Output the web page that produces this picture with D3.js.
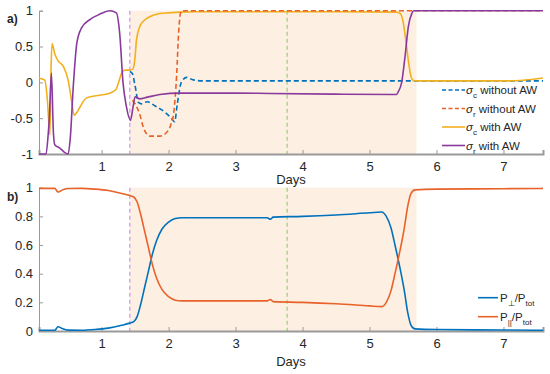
<!DOCTYPE html>
<html><head><meta charset="utf-8">
<script src="https://cdn.jsdelivr.net/npm/d3@7"></script>
<style>body{margin:0;background:#fff;} svg{display:block;font-family:"Liberation Sans",Arial,sans-serif;}</style>
</head><body><svg id="c" width="550" height="374"></svg>
<script>
// ---------- data ----------
const xTicks = [1,2,3,4,5,6,7];
const yTicksA = [-1,-0.5,0,0.5,1];
const yTicksB = [0,0.2,0.4,0.6,0.8,1];
const shadeRange = [1.42, 5.7];
const markerPink = 1.42;
const markerGreen = 3.77;

// panel a: sigma_c with AW (yellow)
const scWithX = [0.065,0.1,0.15,0.19,0.215,0.228,0.245,0.26,0.3,0.35,0.43,0.5,0.55,0.59,0.63,0.68,0.77,0.97,1.1,1.17,1.22,1.25,1.28,1.31,1.36,1.42,1.47,1.5,1.52,1.57,1.62,1.67,1.77,1.87,2.0,2.17,2.4,2.7,3.5,4.5,5.4,5.46,5.5,5.54,5.58,5.62,5.65,5.7,6.0,7.0,7.3,7.59];
const scWithY = [0.06,0.05,0.03,-0.25,-0.6,-0.73,0.2,0.54,0.4,0.3,0.22,0.03,-0.25,-0.46,-0.42,-0.34,-0.22,-0.18,-0.16,-0.13,-0.09,-0.01,0.08,0.15,0.17,0.17,0.19,0.36,0.59,0.78,0.85,0.89,0.935,0.96,0.97,0.98,0.985,0.985,0.985,0.985,0.98,0.96,0.85,0.6,0.3,0.08,0.03,0.02,0.02,0.02,0.03,0.06];
// panel a: sigma_r with AW (purple)
const srWithX = [0.065,0.15,0.17,0.2,0.22,0.25,0.28,0.3,0.38,0.45,0.5,0.53,0.58,0.63,0.7,0.83,0.97,1.12,1.22,1.27,1.32,1.37,1.43,1.47,1.5,1.57,1.67,1.87,2.17,3.0,3.5,4.5,5.4,5.43,5.48,5.53,5.58,5.63,5.66,6.0,7.0,7.59];
const srWithY = [-1,-1,-1,-0.75,-0.48,0.13,-0.7,-0.87,-0.92,-0.98,-1,-0.8,-0.01,0.55,0.76,0.88,0.95,1.0,0.97,0.68,-0.01,-0.34,-0.53,-0.34,-0.2,-0.23,-0.21,-0.17,-0.15,-0.15,-0.155,-0.165,-0.17,-0.13,0.0,0.36,0.78,0.96,1.0,1.0,1.0,1.0];
// panel a: sigma_c without AW (blue dashed)
const scWithoutX = [1.42,1.46,1.5,1.55,1.6,1.68,1.8,1.95,2.04,2.09,2.13,2.19,2.27,2.35,2.5,3.5,5.7,7.59];
const scWithoutY = [0.15,0.12,-0.05,-0.28,-0.3,-0.27,-0.33,-0.42,-0.5,-0.55,-0.3,0.0,0.07,0.04,0.02,0.02,0.02,0.02];
// panel a: sigma_r without AW (orange dashed)
const srWithoutX = [1.46,1.5,1.57,1.62,1.72,1.87,1.97,2.03,2.08,2.12,2.15,2.19,2.3,7.59];
const srWithoutY = [-0.25,-0.3,-0.45,-0.62,-0.75,-0.75,-0.7,-0.6,-0.4,0.1,0.7,1.0,1.0,1.0];

// panel b
const pX = [0.065,0.3,0.35,0.42,0.5,0.7,0.9,1.1,1.3,1.42,1.48,1.53,1.58,1.64,1.7,1.76,1.82,1.9,2.0,2.1,2.2,3.0,3.47,3.52,3.56,4.0,4.5,5.0,5.18,5.25,5.32,5.38,5.45,5.52,5.57,5.62,5.68,6.0,7.0,7.59];
const pPerp = [0.005,0.005,0.03,0.015,0.006,0.005,0.01,0.02,0.04,0.055,0.065,0.1,0.18,0.3,0.42,0.54,0.63,0.71,0.76,0.785,0.79,0.79,0.79,0.78,0.795,0.8,0.81,0.825,0.83,0.8,0.72,0.6,0.45,0.28,0.13,0.04,0.015,0.01,0.007,0.005];
const pPar = [0.995,0.995,0.97,0.985,0.994,0.995,0.99,0.98,0.96,0.945,0.935,0.9,0.82,0.7,0.58,0.46,0.37,0.29,0.24,0.215,0.21,0.21,0.21,0.22,0.205,0.2,0.19,0.175,0.17,0.2,0.28,0.4,0.55,0.72,0.87,0.96,0.985,0.99,0.993,0.995];

// ---------- drawing ----------
const svg = d3.select("#c");
const xDomain = [0.065, 7.59];
const x = d3.scaleLinear().domain(xDomain).range([39, 543]);
const yA = d3.scaleLinear().domain([-1,1]).range([154, 10.7]);
const yB = d3.scaleLinear().domain([0,1]).range([331, 187.7]);

const C = {blue:"#0072BD", orange:"#E8622A", yellow:"#F2B01E", purple:"#8A3A9C", axis:"#9a9a9a", text:"#262626"};

function panel(y, yTicks, yFmt, label, labelY, daysY){
  const g = svg.append("g");
  const [yb, yt] = y.range();
  g.append("rect").attr("x", x(shadeRange[0])).attr("y", yt)
    .attr("width", x(shadeRange[1]) - x(shadeRange[0])).attr("height", yb - yt)
    .attr("fill", "#fdefe2");
  g.append("line").attr("x1", x(markerPink)).attr("x2", x(markerPink)).attr("y1", yt).attr("y2", yb)
    .attr("stroke", "#d6a6f2").attr("stroke-width", 1.5).attr("stroke-dasharray", "4,3");
  g.append("line").attr("x1", x(markerGreen)).attr("x2", x(markerGreen)).attr("y1", yt).attr("y2", yb)
    .attr("stroke", "#9ed27a").attr("stroke-width", 1.3).attr("stroke-dasharray", "4,3");
  const xa = g.append("g").attr("transform", `translate(0,${yb})`)
    .call(d3.axisBottom(x).tickValues(xTicks).tickSize(-4).tickPadding(8).tickFormat(d3.format("d")));
  const ya = g.append("g").attr("transform", `translate(${x.range()[0]},0)`)
    .call(d3.axisLeft(y).tickValues(yTicks).tickSize(-4).tickPadding(6).tickFormat(yFmt));
  [xa, ya].forEach(a => {
    a.selectAll("path").attr("stroke", C.axis);
    a.selectAll("line").attr("stroke", C.axis);
    a.selectAll("text").attr("fill", C.text).style("font-size", "13px").style("font-family", '"Liberation Sans",Arial,sans-serif');
  });
  xa.select("path").attr("stroke-width", 2);
  g.append("text").attr("x", (x.range()[0] + x.range()[1]) / 2).attr("y", daysY)
    .attr("text-anchor", "middle").attr("fill", C.text).style("font-size", "13px").text("Days");
  g.append("text").attr("x", 7).attr("y", labelY).attr("fill", C.text)
    .style("font-size", "12px").style("font-weight", "bold").text(label);
  return g;
}

const fmtA = d => d === 0 ? "0" : (Number.isInteger(d) ? String(d) : String(d.toFixed(1)));
const fmtB = d => d === 0 ? "0" : (d === 1 ? "1" : d.toFixed(1));
const gA = panel(yA, yTicksA, fmtA, "a)", 23, 184);
const gB = panel(yB, yTicksB, fmtB, "b)", 201, 366);

function drawLine(g, y, xs, ys, color, dash){
  const data = xs.map((v, i) => [v, ys[i]]);
  g.append("path").datum(data)
    .attr("d", d3.line().x(d => x(d[0])).y(d => y(d[1])).curve(d3.curveMonotoneX))
    .attr("fill", "none").attr("stroke", color).attr("stroke-width", 1.6)
    .attr("stroke-dasharray", dash || null);
}

drawLine(gA, yA, scWithoutX, scWithoutY, C.blue, "5,3");
drawLine(gA, yA, scWithX, scWithY, C.yellow);
drawLine(gA, yA, srWithoutX, srWithoutY, C.orange, "5,3");
drawLine(gA, yA, srWithX, srWithY, C.purple);

drawLine(gB, yB, pX, pPerp, C.blue);
drawLine(gB, yB, pX, pPar, C.orange);

const legA = [
  {sym:"c", txt:" without AW", color:C.blue, dash:"4,2.5", y:90},
  {sym:"r", txt:" without AW", color:C.orange, dash:"4,2.5", y:108.5},
  {sym:"c", txt:" with AW", color:C.yellow, dash:null, y:127},
  {sym:"r", txt:" with AW", color:C.purple, dash:null, y:145.5}
];
legA.forEach(e => {
  gA.append("line").attr("x1", 442).attr("x2", 465).attr("y1", e.y).attr("y2", e.y)
    .attr("stroke", e.color).attr("stroke-width", 1.6).attr("stroke-dasharray", e.dash);
  const t = gA.append("text").attr("x", 466).attr("y", e.y + 4).attr("fill", C.text).style("font-size", "11.5px");
  t.append("tspan").style("font-style", "italic").text("σ");
  t.append("tspan").attr("dy", 4).style("font-size", "8px").text(e.sym);
  t.append("tspan").attr("dy", -4).text(e.txt);
});

const legB = [
  {sub1:"⊥", color:C.blue, y:297.7},
  {sub1:"||", color:C.orange, y:316.7}
];
legB.forEach(e => {
  gB.append("line").attr("x1", 478).attr("x2", 498).attr("y1", e.y).attr("y2", e.y)
    .attr("stroke", e.color).attr("stroke-width", 1.6);
  const t = gB.append("text").attr("x", 500).attr("y", e.y + 4).attr("fill", C.text).style("font-size", "11.5px");
  t.append("tspan").text("P");
  t.append("tspan").attr("dy", 4).style("font-size", "8px").text(e.sub1);
  t.append("tspan").attr("dy", -4).text("/P");
  t.append("tspan").attr("dy", 4).style("font-size", "8px").text("tot");
});
</script></body></html>
